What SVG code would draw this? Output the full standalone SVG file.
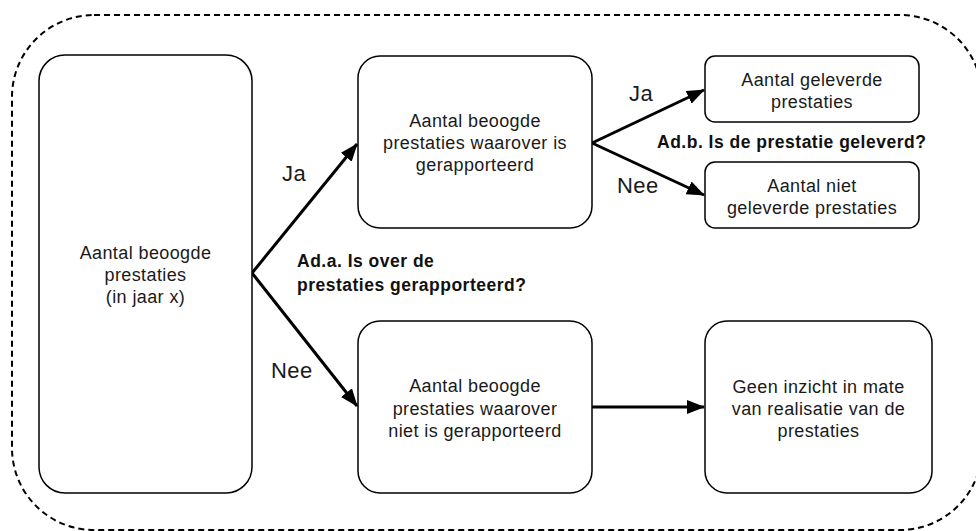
<svg xmlns="http://www.w3.org/2000/svg" width="976" height="531" viewBox="0 0 976 531">
<style>
.box{fill:#fff;stroke:#000;stroke-width:1.5}
.t{font-family:"Liberation Sans",Arial,sans-serif;font-size:18px;letter-spacing:0.4px;fill:#1a1a1a;text-anchor:middle}
.lbl{font-family:"Liberation Sans",Arial,sans-serif;font-size:22px;letter-spacing:0.4px;fill:#1a1a1a}
.q{font-family:"Liberation Sans",Arial,sans-serif;font-size:17.5px;font-weight:bold;letter-spacing:0.5px;fill:#111}
.c{stroke:#000;stroke-width:3;fill:none;marker-end:url(#ah)}
</style>
<defs>
<marker id="ah" markerUnits="userSpaceOnUse" markerWidth="18" markerHeight="14" viewBox="0 0 18 14" refX="17" refY="7" orient="auto">
<path d="M0,0 L18,7 L0,14 z" fill="#000"/>
</marker>
</defs>
<rect width="976" height="531" fill="#fff"/>
<rect id="frame" x="12" y="15" width="970" height="515" rx="82" ry="82" fill="none" stroke="#000" stroke-width="2" stroke-dasharray="6,4"/>
<g id="connectors">
<line class="c" x1="252" y1="273" x2="357" y2="144"/>
<line class="c" x1="252" y1="273" x2="357" y2="406"/>
<line class="c" x1="592" y1="143" x2="704" y2="90"/>
<line class="c" x1="592" y1="143" x2="704" y2="195"/>
<line class="c" x1="592" y1="407" x2="704" y2="407"/>
</g>
<g id="n-left">
<rect class="box" x="39" y="55" width="213" height="438" rx="26"/>
<text class="t" x="145.5" y="259">Aantal beoogde</text>
<text class="t" x="145.5" y="281">prestaties</text>
<text class="t" x="145.5" y="303">(in jaar x)</text>
</g>
<g id="n-reported">
<rect class="box" x="358" y="56" width="234" height="172" rx="22"/>
<text class="t" x="475" y="127">Aantal beoogde</text>
<text class="t" x="475" y="149">prestaties waarover is</text>
<text class="t" x="475" y="171">gerapporteerd</text>
</g>
<g id="n-delivered">
<rect class="box" x="705" y="56" width="214" height="66" rx="10"/>
<text class="t" x="812" y="86">Aantal geleverde</text>
<text class="t" x="812" y="108">prestaties</text>
</g>
<g id="n-notdelivered">
<rect class="box" x="705" y="162" width="214" height="66" rx="10"/>
<text class="t" x="812" y="192">Aantal niet</text>
<text class="t" x="812" y="214">geleverde prestaties</text>
</g>
<g id="n-notreported">
<rect class="box" x="358" y="321" width="234" height="172" rx="22"/>
<text class="t" x="475" y="392">Aantal beoogde</text>
<text class="t" x="475" y="415">prestaties waarover</text>
<text class="t" x="475" y="437">niet is gerapporteerd</text>
</g>
<g id="n-noinsight">
<rect class="box" x="705" y="321" width="227" height="172" rx="22"/>
<text class="t" x="818.5" y="393">Geen inzicht in mate</text>
<text class="t" x="818.5" y="415">van realisatie van de</text>
<text class="t" x="818.5" y="437">prestaties</text>
</g>
<g id="labels">
<text class="lbl" x="282" y="181">Ja</text>
<text class="lbl" x="271" y="378">Nee</text>
<text class="lbl" x="629" y="101">Ja</text>
<text class="lbl" x="617" y="193">Nee</text>
<text class="q" x="297" y="267">Ad.a. Is over de</text>
<text class="q" x="297" y="291">prestaties gerapporteerd?</text>
<text class="q" x="657" y="148">Ad.b. Is de prestatie geleverd?</text>
</g>
</svg>
